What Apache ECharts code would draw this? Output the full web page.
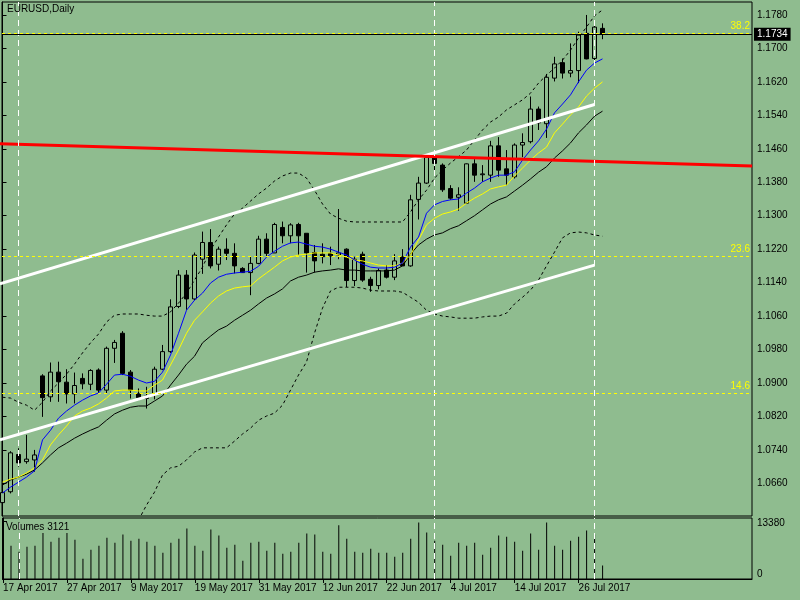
<!DOCTYPE html>
<html>
<head>
<meta charset="utf-8">
<title>EURUSD,Daily</title>
<script src="https://cdn.jsdelivr.net/npm/echarts@6.0.0/dist/echarts.min.js"></script>
<style>
  html, body { margin: 0; padding: 0; background: #8fbc8f; }
  #chart { width: 800px; height: 600px; }
</style>
</head>
<body>
<div id="chart"></div>
<script>
// bar dates shown on the time axis (every 8th trading day)
const dateLabels = ['17 Apr 2017', '27 Apr 2017', '9 May 2017', '19 May 2017', '31 May 2017',
  '12 Jun 2017', '22 Jun 2017', '4 Jul 2017', '14 Jul 2017', '26 Jul 2017'];
const labelIdx = [0, 8, 16, 24, 32, 40, 48, 56, 64, 72];

// daily candles, 17 Apr 2017 .. 31 Jul 2017
const opens = [1.0614,1.0640,1.0729,1.0712,1.0716,1.0917,1.0867,1.0926,1.0902,1.0874,
  1.0911,1.0897,1.0931,1.0883,1.0983,1.1019,1.0926,1.0874,1.0863,1.0874,
  1.0933,1.0975,1.1083,1.1158,1.1101,1.1196,1.1236,1.1184,1.1220,1.1210,
  1.1174,1.1164,1.1186,1.1244,1.1211,1.1272,1.1252,1.1279,1.1258,1.1212,
  1.1208,1.1210,1.1206,1.1220,1.1145,1.1208,1.1148,1.1133,1.1170,1.1153,
  1.1201,1.1180,1.1339,1.1378,1.1440,1.1421,1.1365,1.1344,1.1330,1.1424,
  1.1398,1.1397,1.1467,1.1412,1.1393,1.1469,1.1477,1.1555,1.1520,1.1629,
  1.1666,1.1641,1.1647,1.1736,1.1676,1.1748];
const closes = [1.0638,1.0733,1.0709,1.0718,1.0728,1.0865,1.0926,1.0903,1.0874,1.0894,
  1.0898,1.0930,1.0883,1.0983,1.0997,1.0923,1.0883,1.0865,1.0869,1.0933,
  1.0975,1.1082,1.1158,1.1101,1.1206,1.1236,1.1180,1.1220,1.1210,1.1180,
  1.1164,1.1186,1.1244,1.1210,1.1279,1.1252,1.1278,1.1252,1.1211,1.1192,
  1.1202,1.1204,1.1211,1.1145,1.1196,1.1146,1.1133,1.1169,1.1153,1.1192,
  1.1180,1.1338,1.1378,1.1440,1.1425,1.1362,1.1342,1.1350,1.1424,1.1397,
  1.1400,1.1467,1.1409,1.1397,1.1469,1.1475,1.1555,1.1522,1.1631,1.1663,
  1.1641,1.1647,1.1732,1.1675,1.1751,1.1734];
const lows = [1.0608,1.0636,1.0700,1.0707,1.0688,1.0819,1.0855,1.0855,1.0851,1.0851,
  1.0885,1.0883,1.0874,1.0874,1.0948,1.0919,1.0863,1.0859,1.0839,1.0861,
  1.0931,1.0972,1.1079,1.1075,1.1098,1.1161,1.1174,1.1169,1.1194,1.1162,
  1.1163,1.1110,1.1184,1.1202,1.1211,1.1234,1.1234,1.1206,1.1164,1.1164,
  1.1186,1.1182,1.1196,1.1129,1.1132,1.1142,1.1118,1.1124,1.1150,1.1146,
  1.1180,1.1178,1.1291,1.1376,1.1400,1.1357,1.1338,1.1312,1.1328,1.1381,
  1.1381,1.1381,1.1393,1.1373,1.1389,1.1440,1.1473,1.1505,1.1486,1.1621,
  1.1628,1.1631,1.1617,1.1674,1.1668,1.1722];
const highs = [1.0646,1.0737,1.0744,1.0776,1.0740,1.0921,1.0949,1.0951,1.0933,1.0925,
  1.0923,1.0933,1.0935,1.0987,1.1003,1.1024,1.0931,1.0887,1.0891,1.0939,
  1.0991,1.1100,1.1170,1.1170,1.1212,1.1262,1.1268,1.1226,1.1246,1.1234,
  1.1177,1.1202,1.1252,1.1258,1.1283,1.1286,1.1282,1.1283,1.1258,1.1230,
  1.1234,1.1226,1.1316,1.1222,1.1202,1.1214,1.1154,1.1174,1.1182,1.1208,
  1.1220,1.1350,1.1393,1.1443,1.1446,1.1425,1.1373,1.1368,1.1425,1.1435,
  1.1421,1.1479,1.1488,1.1457,1.1473,1.1497,1.1585,1.1561,1.1639,1.1680,
  1.1676,1.1712,1.1740,1.1780,1.1764,1.1760];
const volumes = [6200,7679,6283,7446,7679,10634,8610,9541,10634,9075,
  4654,6748,7679,9541,8377,10239,8843,9308,8610,7679,
  6050,8377,9308,11635,7679,6516,11402,10006,7214,7912,
  4189,8377,8610,6516,8377,5818,6283,8377,10472,10239,
  6283,5818,12403,9308,6283,6050,6981,6050,6050,5119,
  6050,9308,13031,10704,8843,7912,5352,8377,7679,8377,
  5585,7214,10006,9773,8610,6516,10472,6748,13031,7679,
  6748,8843,9773,11170,10239,3121];

// indicator values, one per bar
const fastMA = [1.0637,1.0651,1.0663,1.0675,1.0690,1.0764,1.0787,1.0816,1.0833,1.0847,
  1.0859,1.0869,1.0876,1.0897,1.0919,1.0921,1.0916,1.0907,1.0900,1.0904,
  1.0926,1.0967,1.1019,1.1074,1.1098,1.1115,1.1139,1.1153,1.1160,1.1163,
  1.1165,1.1167,1.1179,1.1201,1.1215,1.1227,1.1235,1.1237,1.1232,1.1227,
  1.1225,1.1220,1.1213,1.1206,1.1194,1.1184,1.1177,1.1175,1.1175,1.1177,
  1.1187,1.1225,1.1249,1.1306,1.1326,1.1334,1.1338,1.1340,1.1354,1.1366,
  1.1381,1.1390,1.1397,1.1397,1.1405,1.1433,1.1457,1.1479,1.1507,1.1546,
  1.1567,1.1589,1.1620,1.1648,1.1665,1.1675];
const midMA = [1.0663,1.0670,1.0675,1.0685,1.0697,1.0716,1.0752,1.0776,1.0797,1.0821,
  1.0833,1.0840,1.0850,1.0864,1.0881,1.0883,1.0883,1.0881,1.0881,1.0895,
  1.0907,1.0943,1.0979,1.1019,1.1050,1.1070,1.1091,1.1108,1.1120,1.1127,
  1.1130,1.1132,1.1149,1.1163,1.1177,1.1192,1.1201,1.1206,1.1208,1.1211,
  1.1211,1.1211,1.1206,1.1201,1.1194,1.1192,1.1187,1.1182,1.1180,1.1180,
  1.1187,1.1206,1.1242,1.1278,1.1294,1.1304,1.1309,1.1316,1.1330,1.1342,
  1.1352,1.1364,1.1369,1.1373,1.1395,1.1414,1.1433,1.1450,1.1464,1.1498,
  1.1519,1.1541,1.1560,1.1586,1.1605,1.1620];
const slowMA = [1.0656,1.0668,1.0675,1.0682,1.0692,1.0709,1.0728,1.0745,1.0756,1.0768,
  1.0778,1.0787,1.0795,1.0811,1.0826,1.0835,1.0842,1.0845,1.0845,1.0857,
  1.0869,1.0895,1.0919,1.0945,1.0964,1.0996,1.1012,1.1027,1.1036,1.1050,
  1.1062,1.1074,1.1089,1.1103,1.1113,1.1125,1.1144,1.1153,1.1158,1.1165,
  1.1168,1.1170,1.1173,1.1170,1.1170,1.1168,1.1168,1.1168,1.1168,1.1170,
  1.1180,1.1208,1.1230,1.1244,1.1254,1.1259,1.1269,1.1276,1.1288,1.1300,
  1.1314,1.1328,1.1338,1.1345,1.1359,1.1373,1.1388,1.1404,1.1417,1.1438,
  1.1455,1.1474,1.1498,1.1517,1.1538,1.1550];
const upperBand = [1.0866,1.0864,1.0854,1.0847,1.0835,1.0854,1.0881,1.0900,1.0921,1.0945,
  1.0972,1.0996,1.1017,1.1046,1.1062,1.1065,1.1065,1.1065,1.1062,1.1060,
  1.1060,1.1070,1.1091,1.1115,1.1146,1.1177,1.1218,1.1249,1.1278,1.1304,
  1.1318,1.1335,1.1352,1.1366,1.1383,1.1395,1.1402,1.1402,1.1390,1.1361,
  1.1328,1.1304,1.1294,1.1287,1.1285,1.1285,1.1285,1.1285,1.1285,1.1285,
  1.1285,1.1309,1.1338,1.1361,1.1390,1.1409,1.1426,1.1441,1.1457,1.1481,
  1.1505,1.1524,1.1536,1.1553,1.1565,1.1577,1.1593,1.1617,1.1636,1.1653,
  1.1672,1.1696,1.1725,1.1751,1.1778,1.1792];
// lower band is below the visible range before the 17th bar
const lowerBand = [null,null,null,null,null,null,null,null,null,null,
  null,null,null,null,null,null,null,1.0572,1.0608,1.0639,
  1.0680,1.0697,1.0701,1.0716,1.0735,1.0745,1.0745,1.0745,1.0745,1.0761,
  1.0778,1.0792,1.0811,1.0821,1.0828,1.0847,1.0883,1.0919,1.0950,1.1019,
  1.1079,1.1120,1.1129,1.1129,1.1129,1.1127,1.1122,1.1120,1.1120,1.1120,
  1.1117,1.1105,1.1093,1.1074,1.1065,1.1060,1.1058,1.1055,1.1055,1.1055,
  1.1058,1.1060,1.1060,1.1067,1.1089,1.1105,1.1122,1.1146,1.1180,1.1213,
  1.1247,1.1259,1.1261,1.1259,1.1254,1.1251];

// drawn objects: channel, long trend line, fibo levels, separators
const channelUpper = [[-0.32, 1.1137], [74, 1.1566]];
const channelLower = [[-0.32, 1.0764], [74, 1.1182]];
const redTrend = [[-0.32, 1.1472], [93.7, 1.1419]];
const fibLevels = ['38.2', '23.6', '14.6'];
const fibPrices = [1.1736, 1.1203, 1.0875];
const separators = [2, 54, 74];
const lastPrice = 1.1734;

const priceTicks = [1.0660, 1.0740, 1.0820, 1.0900, 1.0980, 1.1060, 1.1140, 1.1220,
  1.1300, 1.1380, 1.1460, 1.1540, 1.1620, 1.1700, 1.1780];
const volumeTicks = [0, 13380];

// layout: 8 px per bar, bar 0 sits just right of the left border
const BG = '#8fbc8f';
const X_MIN = -0.0625;
const X_MAX = X_MIN + 750 / 8;
const FONT = 'Liberation Sans';

const chart = echarts.init(document.getElementById('chart'));

const toXY = arr => arr.map((v, i) => [i, v]).filter(p => p[1] !== null);
const candles = opens.map((o, i) => [i, o, closes[i], lows[i], highs[i]]);

function lineSeries(name, arr, color, dashed) {
    return {
        name: name,
        type: 'line',
        xAxisIndex: 0,
        yAxisIndex: 0,
        data: toXY(arr),
        symbol: 'none',
        z: 3,
        lineStyle: { color: color, width: 1, type: dashed ? [3, 3] : 'solid' }
    };
}

function objectLine(name, pts, color, width) {
    return {
        name: name,
        type: 'line',
        xAxisIndex: 0,
        yAxisIndex: 0,
        data: pts,
        symbol: 'none',
        z: 4,
        lineStyle: { color: color, width: width }
    };
}

const sepLines = separators.map(x => ({
    xAxis: x,
    lineStyle: { color: '#fff', type: [6, 4], width: 1 }
}));

const option = {
    backgroundColor: BG,
    animation: false,
    textStyle: { fontFamily: FONT },
    title: [
        { text: 'EURUSD,Daily', left: 7, top: 4, padding: 0,
          textStyle: { fontSize: 10, fontWeight: 'normal', color: '#000', fontFamily: FONT } },
        { text: 'Volumes ' + volumes[volumes.length - 1], left: 6, top: 522, padding: 0,
          textStyle: { fontSize: 10, fontWeight: 'normal', color: '#000', fontFamily: FONT } }
    ],
    grid: [
        { left: 2, right: 48, top: 2, height: 514, show: true, borderColor: '#000', borderWidth: 1 },
        { left: 2, right: 48, top: 518, height: 61, show: true, borderColor: '#000', borderWidth: 1 }
    ],
    xAxis: [
        {
            type: 'value', gridIndex: 0, min: X_MIN, max: X_MAX,
            axisLine: { show: false }, axisTick: { show: false },
            axisLabel: { show: false }, splitLine: { show: false }
        },
        {
            type: 'value', gridIndex: 1, min: X_MIN, max: X_MAX,
            axisLine: { show: true, lineStyle: { color: '#000' } },
            axisTick: { show: true, customValues: labelIdx, length: 4, lineStyle: { color: '#000' } },
            axisLabel: {
                customValues: labelIdx,
                formatter: v => dateLabels[labelIdx.indexOf(Math.round(v))],
                align: 'left', margin: 4, color: '#000', fontSize: 10, fontFamily: FONT
            },
            splitLine: { show: false }
        }
    ],
    yAxis: [
        {
            type: 'value', gridIndex: 0, position: 'right', min: 1.0582, max: 1.1811,
            axisLine: { show: true, lineStyle: { color: '#000' } },
            axisTick: { show: true, customValues: priceTicks, length: 4, lineStyle: { color: '#000' } },
            axisLabel: {
                customValues: priceTicks,
                formatter: v => v.toFixed(4),
                margin: 5, color: '#000', fontSize: 10, fontFamily: FONT
            },
            splitLine: { show: false }
        },
        {
            type: 'value', gridIndex: 1, position: 'right', min: 0, max: 14070,
            axisLine: { show: true, lineStyle: { color: '#000' } },
            axisTick: { show: true, customValues: volumeTicks, length: 4, lineStyle: { color: '#000' } },
            axisLabel: {
                customValues: volumeTicks,
                formatter: v => v === 0 ? '{lo|0}' : '{hi|' + v + '}',
                margin: 5,
                rich: {
                    lo: { padding: [0, 0, 9, 0], fontSize: 10, color: '#000', fontFamily: FONT },
                    hi: { padding: [5, 0, 0, 0], fontSize: 10, color: '#000', fontFamily: FONT }
                }
            },
            splitLine: { show: false }
        }
    ],
    series: [
        {
            name: 'EURUSD',
            type: 'candlestick',
            xAxisIndex: 0,
            yAxisIndex: 0,
            data: candles,
            barWidth: 5,
            z: 2,
            itemStyle: {
                color: BG, color0: '#000',
                borderColor: '#000', borderColor0: '#000', borderColorDoji: '#000',
                borderWidth: 1
            },
            markLine: {
                silent: true,
                precision: 4,
                symbol: ['none', 'none'],
                label: { show: false },
                data: sepLines.concat([{
                    yAxis: lastPrice,
                    lineStyle: { color: '#000', type: 'solid', width: 1 },
                    label: {
                        show: true, position: 'end', formatter: lastPrice.toFixed(4),
                        color: '#fff', backgroundColor: '#000', padding: [2, 3, 1, 3],
                        fontSize: 10, fontFamily: FONT, distance: 2
                    }
                }])
            }
        },
        lineSeries('Upper band', upperBand, '#000', true),
        lineSeries('Lower band', lowerBand, '#000', true),
        lineSeries('Slow MA', slowMA, '#000', false),
        lineSeries('Mid MA', midMA, '#ffff00', false),
        lineSeries('Fast MA', fastMA, '#0000ff', false),
        objectLine('Channel top', channelUpper, '#fff', 3),
        objectLine('Channel bottom', channelLower, '#fff', 3),
        Object.assign(objectLine('Trend', redTrend, '#ff0000', 3), {
            markLine: {
                silent: true,
                precision: 4,
                symbol: ['none', 'none'],
                data: fibPrices.map((p, k) => ({
                    yAxis: p,
                    lineStyle: { color: '#ffff00', type: [3, 3], width: 1 },
                    label: {
                        show: true, position: 'insideEndTop', formatter: fibLevels[k],
                        color: '#ffff00', fontSize: 10, fontFamily: FONT, distance: 2
                    }
                }))
            }
        }),
        {
            name: 'Volumes',
            type: 'bar',
            xAxisIndex: 1,
            yAxisIndex: 1,
            data: toXY(volumes),
            barWidth: 1,
            itemStyle: { color: '#000' },
            markLine: {
                silent: true,
                symbol: ['none', 'none'],
                label: { show: false },
                data: sepLines
            }
        }
    ]
};

chart.setOption(option);
</script>
</body>
</html>
